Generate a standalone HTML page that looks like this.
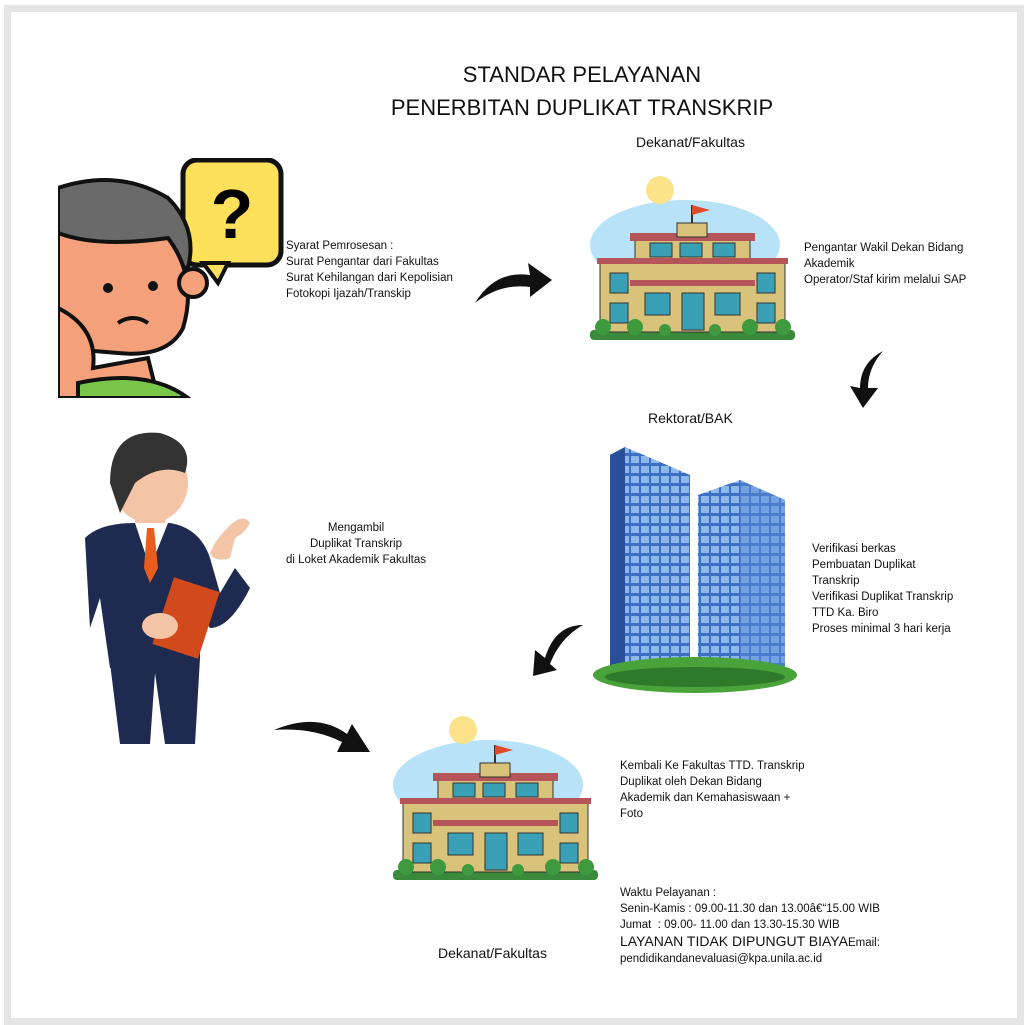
<!DOCTYPE html>
<html><head><meta charset="utf-8"><style>
body{margin:0;width:1024px;height:1024px;background:#fff;position:relative;overflow:hidden;font-family:"Liberation Sans",sans-serif}
.frame{position:absolute;left:4px;top:5px;width:1006px;height:1006px;border:7px solid #e5e5e5;box-shadow:2px 2px 3px #bbb}
.t{position:absolute;font-size:11.5px;line-height:16px;color:#111;white-space:nowrap}
.h{position:absolute;font-size:14px;color:#111;white-space:nowrap}
svg{position:absolute}
</style></head><body>
<div class="frame"></div>
<div class="h" style="left:282px;top:58px;width:600px;font-size:22px;line-height:33px;text-align:center">STANDAR PELAYANAN<br>PENERBITAN DUPLIKAT TRANSKRIP</div>
<div class="h" style="left:636px;top:134px">Dekanat/Fakultas</div>
<div class="h" style="left:648px;top:410px">Rektorat/BAK</div>
<div class="h" style="left:438px;top:945px">Dekanat/Fakultas</div>

<div class="t" style="left:286px;top:238px">Syarat Pemrosesan :<br>Surat Pengantar dari Fakultas<br>Surat Kehilangan dari Kepolisian<br>Fotokopi Ijazah/Transkip</div>
<div class="t" style="left:804px;top:240px">Pengantar Wakil Dekan Bidang<br>Akademik<br>Operator/Staf kirim melalui SAP</div>
<div class="t" style="left:286px;top:520px;text-align:center;width:140px">Mengambil<br>Duplikat Transkrip<br>di Loket Akademik Fakultas</div>
<div class="t" style="left:812px;top:541px">Verifikasi berkas<br>Pembuatan Duplikat<br>Transkrip<br>Verifikasi Duplikat Transkrip<br>TTD Ka. Biro<br>Proses minimal 3 hari kerja</div>
<div class="t" style="left:620px;top:758px">Kembali Ke Fakultas TTD. Transkrip<br>Duplikat oleh Dekan Bidang<br>Akademik dan Kemahasiswaan +<br>Foto</div>
<div class="t" style="left:620px;top:885px">Waktu Pelayanan :<br>Senin-Kamis : 09.00-11.30 dan 13.00â€“15.00 WIB<br>Jumat&nbsp; : 09.00- 11.00 dan 13.30-15.30 WIB</div>
<div class="t" style="left:620px;top:933px;line-height:16px"><span style="font-size:14px">LAYANAN TIDAK DIPUNGUT BIAYA</span>Email:<br>pendidikandanevaluasi@kpa.unila.ac.id</div>

<!-- thinking person -->
<svg style="left:58px;top:158px" width="230" height="240" viewBox="0 0 230 240">
<rect x="125" y="2" width="98" height="105" rx="14" fill="#fde15a" stroke="#111" stroke-width="5"/>
<polygon points="145,105 160,125 170,105" fill="#fde15a" stroke="#111" stroke-width="4"/>
<text x="174" y="80" font-size="70" font-weight="bold" text-anchor="middle" font-family="Liberation Sans">?</text>
<path d="M0,30 Q60,10 110,40 Q140,70 130,110 L0,110Z" fill="#6a6a6a" stroke="#111" stroke-width="4"/>
<path d="M0,75 Q40,90 110,80 Q140,120 125,170 Q110,200 60,195 L0,190Z" fill="#f4a07a" stroke="#111" stroke-width="4"/>
<circle cx="135" cy="125" r="14" fill="#f4a07a" stroke="#111" stroke-width="4"/>
<circle cx="50" cy="130" r="5" fill="#111"/><circle cx="95" cy="128" r="5" fill="#111"/>
<path d="M60,165 Q75,155 90,165" stroke="#111" stroke-width="4" fill="none"/>
<path d="M0,150 Q40,170 35,210 L90,200 L100,240 L0,240Z" fill="#f4a07a" stroke="#111" stroke-width="4"/>
<path d="M20,225 Q90,210 130,240 L20,240Z" fill="#7ac64a" stroke="#111" stroke-width="4"/>
</svg>

<!-- business man -->
<svg style="left:80px;top:428px" width="175" height="318" viewBox="0 0 175 318">
<path d="M55,45 L55,95 L85,95 L95,50Z" fill="#f3c5a6"/>
<ellipse cx="70" cy="55" rx="38" ry="40" fill="#f3c5a6"/>
<path d="M30,55 Q30,0 80,5 Q115,15 105,45 Q80,35 55,55 L40,85Z" fill="#333"/>
<path d="M5,110 Q20,95 55,95 L90,95 Q120,100 130,130 L140,165 L155,140 L170,160 Q150,200 130,200 L120,185 L120,230 L30,240 L20,170 L10,200 Z" fill="#1e2a4f"/>
<polygon points="55,95 70,140 88,95" fill="#fff"/>
<polygon points="67,100 74,100 78,140 70,155 64,140" fill="#e85d1b"/>
<path d="M30,235 L40,316 L70,316 L75,245 L85,316 L115,316 L120,230Z" fill="#1e2a4f"/>
<rect x="82" y="155" width="48" height="70" fill="#d2491b" transform="rotate(18 106 190)"/>
<ellipse cx="80" cy="198" rx="18" ry="13" fill="#f3c5a6"/>
<path d="M135,115 Q160,80 170,95 Q165,105 155,110 L150,130 Q135,135 130,125Z" fill="#f3c5a6"/>
</svg>

<!-- arrows -->
<svg style="left:470px;top:255px" width="85" height="55"><path d="M5,48 Q25,15 60,20 L58,8 L82,25 L60,42 L60,32 Q30,28 5,48Z" fill="#111"/></svg>
<svg style="left:838px;top:348px" width="50" height="62"><path d="M45,3 Q22,15 22,40 L12,38 L25,60 L40,40 L30,40 Q30,20 45,3Z" fill="#111"/></svg>
<svg style="left:525px;top:620px" width="60" height="58"><path d="M58,5 Q30,5 20,38 L10,30 L8,56 L32,50 L25,44 Q35,18 58,5Z" fill="#111"/></svg>
<svg style="left:272px;top:712px" width="100" height="45"><path d="M2,18 Q45,0 75,22 L80,12 L98,40 L65,40 L70,30 Q40,15 2,18Z" fill="#111"/></svg>

<!-- buildings -->
<svg style="left:585px;top:175px" width="215" height="180" viewBox="0 0 215 180">
<ellipse cx="100" cy="70" rx="95" ry="45" fill="#b8e2f7"/>
<circle cx="75" cy="15" r="14" fill="#fce38a"/>
<rect x="5" y="155" width="205" height="10" rx="4" fill="#3b8a3b"/>
<rect x="15" y="85" width="185" height="72" fill="#d9c27a" stroke="#333"/>
<rect x="50" y="62" width="115" height="25" fill="#d9c27a" stroke="#333"/>
<rect x="45" y="58" width="125" height="8" fill="#b5555a"/>
<rect x="12" y="83" width="191" height="6" fill="#b5555a"/>
<rect x="45" y="105" width="125" height="6" fill="#b5555a"/>
<rect x="92" y="48" width="30" height="14" fill="#d9c27a" stroke="#333"/>
<line x1="107" y1="48" x2="107" y2="30" stroke="#333" stroke-width="2"/><polygon points="107,30 125,35 107,40" fill="#e04a2a"/>
<g fill="#3aa0b5" stroke="#333">
<rect x="65" y="68" width="22" height="14"/><rect x="95" y="68" width="22" height="14"/><rect x="128" y="68" width="22" height="14"/>
<rect x="25" y="98" width="18" height="20"/><rect x="172" y="98" width="18" height="20"/>
<rect x="25" y="128" width="18" height="20"/><rect x="172" y="128" width="18" height="20"/>
<rect x="60" y="118" width="25" height="22"/><rect x="130" y="118" width="25" height="22"/><rect x="97" y="118" width="22" height="37"/></g>
<g fill="#3f9a3f"><circle cx="18" cy="152" r="8"/><circle cx="50" cy="152" r="8"/><circle cx="165" cy="152" r="8"/><circle cx="198" cy="152" r="8"/><circle cx="130" cy="155" r="6"/><circle cx="80" cy="155" r="6"/></g>
</svg>
<svg style="left:388px;top:715px" width="215" height="180" viewBox="0 0 215 180">
<ellipse cx="100" cy="70" rx="95" ry="45" fill="#b8e2f7"/>
<circle cx="75" cy="15" r="14" fill="#fce38a"/>
<rect x="5" y="155" width="205" height="10" rx="4" fill="#3b8a3b"/>
<rect x="15" y="85" width="185" height="72" fill="#d9c27a" stroke="#333"/>
<rect x="50" y="62" width="115" height="25" fill="#d9c27a" stroke="#333"/>
<rect x="45" y="58" width="125" height="8" fill="#b5555a"/>
<rect x="12" y="83" width="191" height="6" fill="#b5555a"/>
<rect x="45" y="105" width="125" height="6" fill="#b5555a"/>
<rect x="92" y="48" width="30" height="14" fill="#d9c27a" stroke="#333"/>
<line x1="107" y1="48" x2="107" y2="30" stroke="#333" stroke-width="2"/><polygon points="107,30 125,35 107,40" fill="#e04a2a"/>
<g fill="#3aa0b5" stroke="#333">
<rect x="65" y="68" width="22" height="14"/><rect x="95" y="68" width="22" height="14"/><rect x="128" y="68" width="22" height="14"/>
<rect x="25" y="98" width="18" height="20"/><rect x="172" y="98" width="18" height="20"/>
<rect x="25" y="128" width="18" height="20"/><rect x="172" y="128" width="18" height="20"/>
<rect x="60" y="118" width="25" height="22"/><rect x="130" y="118" width="25" height="22"/><rect x="97" y="118" width="22" height="37"/></g>
<g fill="#3f9a3f"><circle cx="18" cy="152" r="8"/><circle cx="50" cy="152" r="8"/><circle cx="165" cy="152" r="8"/><circle cx="198" cy="152" r="8"/><circle cx="130" cy="155" r="6"/><circle cx="80" cy="155" r="6"/></g>
</svg>

<!-- towers -->
<svg style="left:590px;top:445px" width="212" height="250" viewBox="0 0 212 250">
<defs><pattern id="g" width="10" height="10" patternUnits="userSpaceOnUse"><rect width="10" height="10" fill="#3d6fc4"/><rect x="1" y="1" width="8" height="7" fill="#8fb8ea"/></pattern></defs>
<polygon points="20,10 35,2 100,30 100,225 20,225" fill="url(#g)"/>
<polygon points="20,10 35,2 35,225 20,225" fill="#2a4f9a"/>
<polygon points="108,50 150,35 195,55 195,225 108,225" fill="url(#g)"/>
<polygon points="150,35 195,55 195,225 150,225" fill="#5a8ad6" opacity="0.5"/>
<ellipse cx="105" cy="230" rx="102" ry="18" fill="#4aa33a"/>
<ellipse cx="105" cy="232" rx="90" ry="10" fill="#2f7a2a"/>
</svg>
</body></html>
